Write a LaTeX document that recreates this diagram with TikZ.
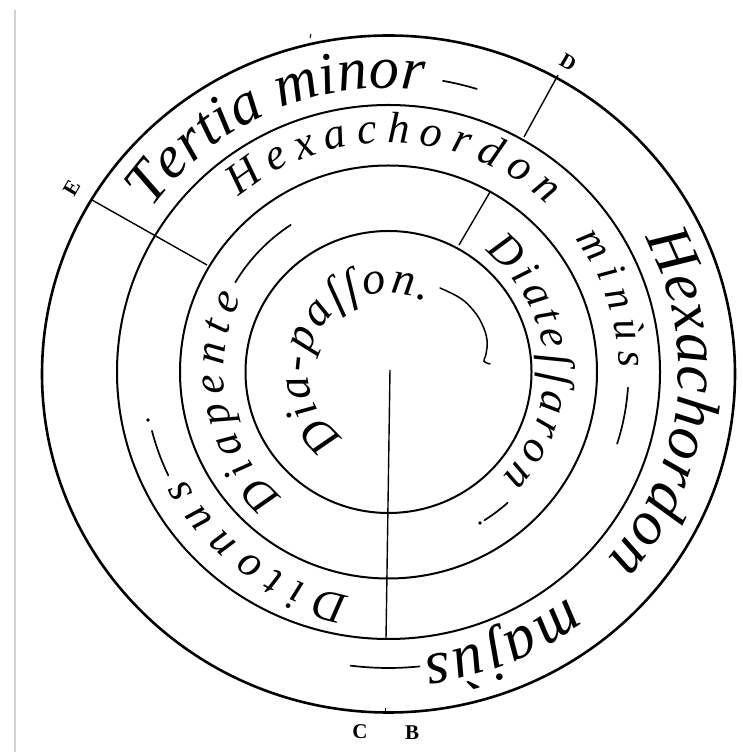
\documentclass[tikz,border=0pt]{standalone}
\usepackage{fontspec}
\newfontfamily\oldit{Liberation Serif}
\usetikzlibrary{decorations.text}
\tikzset{
  ring/.style={line width=2pt},
  outerring/.style={line width=2.6pt},
  radial/.style={line width=1.4pt},
  dashmark/.style={line width=1.7pt, line cap=round},
  lbl/.style={font=\oldit\bfseries\fontsize{21}{21}\selectfont, inner sep=0pt},
}
% #1 x radius, #2 y radius, #3 start angle, #4 end angle, #5 font size, #6 text
\newcommand\ringtext[6]{%
  \path[decorate, decoration={text along path, text align={fit to path},
    text={|\oldit\itshape\fontsize{#5}{#5}\selectfont|#6}}]
    (C) ++(#3:#1 and #2) arc[start angle=#3, end angle=#4, x radius=#1, y radius=#2];
}
\newcommand\ringdash[4]{% #1 rx, #2 ry, #3 start, #4 end
  \draw[dashmark] (C) ++(#3:#1 and #2) arc[start angle=#3, end angle=#4, x radius=#1, y radius=#2];
}
\begin{document}
\begin{tikzpicture}[x=1pt,y=1pt]
  \fill[white] (0,0) rectangle (742,752);
  \useasboundingbox (0,0) rectangle (742,752);
  \draw[gray!35, line width=1.5pt] (15,0) -- (15,742);

  \coordinate (C) at (388.5,380);
  \coordinate (C4) at (388.5,378);

  % rings
  \draw[ring] (C) ellipse [x radius=143, y radius=141];
  \draw[ring] (C) ellipse [x radius=208.5, y radius=206.5];
  \draw[ring] (C) ellipse [x radius=271.5, y radius=267];
  \draw[outerring] (C4) ellipse [x radius=346.5, y radius=338.5];

  % radial lines
  \coordinate (Dout) at (558,677);
  \coordinate (Dmid) at (524,615);
  \coordinate (Dtwo) at (490,560);
  \coordinate (Done) at (459,507);
  \coordinate (Eout) at (92,552);
  \coordinate (Etwo) at (207,487);
  \coordinate (Vtop) at (390,382);
  \coordinate (Vbot) at (386,113);
  \draw[radial] (Dout) -- (Dmid);
  \draw[radial] (Dtwo) -- (Done);
  \draw[radial] (Eout) -- (Etwo);
  \draw[radial] (Vtop) -- (Vbot);

  % small ticks on outer circle
  \draw[line width=1pt] (310,714) -- (311,718);
  \draw[line width=1pt] (385,40) -- (385,44);

  % texts
  \ringtext{289}{284}{145}{83}{60}{Tertia minor}
  \ringtext{290}{285}{28}{-41}{62}{Hexachordon}
  \ringtext{291}{286}{-52}{-83}{62}{majùs}
  \ringtext{233}{229}{130}{47}{44}{Hexachordon}
  \ringtext{231}{227}{36}{1}{42}{minùs}
  \ringtext{231}{227}{260}{208}{44}{Ditonus}
  \ringtext{165}{163}{230}{153}{44}{Diapente}
  \ringtext{156}{154}{52}{-43}{44}{Diateſſaron}
  \ringtext{80}{79}{236}{62}{46}{Dia-paſſon.}

  % dash marks
  \ringdash{302}{296}{79.6}{73}
  \ringdash{178}{176}{149.4}{123.3}
  \ringdash{244}{240}{205.5}{194.2}
  \ringdash{240}{236}{-3.8}{-17.7}
  \ringdash{178}{176}{-48}{-57.4}
  \ringdash{302}{296}{275.9}{262.8}
  \fill (148,332) circle (1.8);
  \fill (480,229) circle (1.8);

  % flourish after Diapasson
  \draw[line width=1.5pt, line cap=round] plot[smooth, tension=0.7] coordinates
    {(440,464) (460,454) (473,442) (482,428) (487,412) (486,398) (484,391) (490,388)};

  % letters
  \node[lbl, rotate=60] (labE) at (72,564) {E};
  \node[lbl, rotate=-30] (labD) at (568,690) {D};
  \node[lbl] (labC) at (360,20) {C};
  \node[lbl] (labB) at (412,19) {B};
\end{tikzpicture}
\end{document}
